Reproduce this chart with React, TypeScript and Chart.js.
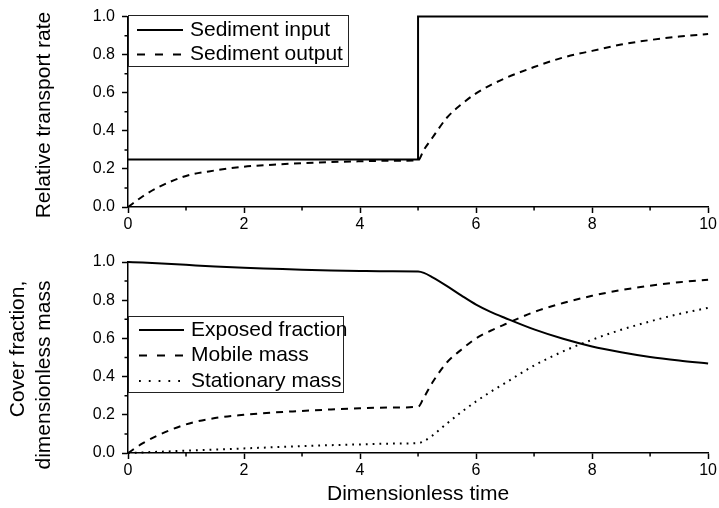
import React, { useEffect, useRef } from 'react';
import { Chart, registerables } from 'chart.js';

Chart.register(...registerables);

const FONT = '"Liberation Sans", Arial, sans-serif';

// ---- data ----
const timeGrid = [0, 0.25, 0.5, 1, 1.5, 2, 2.5, 3, 3.5, 4, 4.5, 5, 5.1, 5.25, 5.5, 5.75, 6, 6.25, 6.5, 7, 7.5, 8, 8.5, 9, 9.5, 10];
const inputTime = [0, 5, 5, 10];
const sedimentInput = [0.25, 0.25, 1.0, 1.0];
const sedimentOutput = [0, 0.055, 0.1, 0.163, 0.192, 0.212, 0.222, 0.23, 0.236, 0.24, 0.243, 0.245, 0.3, 0.365, 0.47, 0.54, 0.597, 0.64, 0.676, 0.735, 0.785, 0.82, 0.853, 0.877, 0.895, 0.908];
const exposedFraction = [1.0, 0.997, 0.993, 0.985, 0.977, 0.97, 0.965, 0.96, 0.956, 0.953, 0.951, 0.95, 0.943, 0.92, 0.874, 0.824, 0.777, 0.739, 0.707, 0.647, 0.598, 0.558, 0.528, 0.503, 0.484, 0.468];
const mobileMass = [0, 0.05, 0.09, 0.15, 0.183, 0.2, 0.212, 0.22, 0.228, 0.234, 0.238, 0.242, 0.29, 0.37, 0.475, 0.542, 0.6, 0.64, 0.674, 0.738, 0.785, 0.823, 0.853, 0.876, 0.894, 0.907];
const stationaryMass = [0, 0.003, 0.006, 0.012, 0.018, 0.024, 0.03, 0.036, 0.041, 0.045, 0.049, 0.052, 0.062, 0.092, 0.155, 0.215, 0.27, 0.32, 0.366, 0.458, 0.532, 0.593, 0.645, 0.689, 0.728, 0.76];

const xTickValues = [0, 2, 4, 6, 8, 10];
const yTickValues = [0, 0.2, 0.4, 0.6, 0.8, 1.0];
const xMinorValues = [1, 3, 5, 7, 9];
const yMinorValues = [0.1, 0.3, 0.5, 0.7, 0.9];

const topLabels = ['Sediment input', 'Sediment output'];
const bottomLabels = ['Exposed fraction', 'Mobile mass', 'Stationary mass'];
const topYTitle = ['Relative transport rate'];
const bottomYTitle = ['Cover fraction,', 'dimensionless mass'];
const xTitle = 'Dimensionless time';

const pts = (xs: number[], ys: number[]) => xs.map((x, i) => ({ x, y: ys[i] }));

// ---- plugins ----
const minorTicks = {
  id: 'minorTicks',
  afterDraw(chart: any) {
    const { ctx } = chart;
    const x = chart.scales.x;
    const y = chart.scales.y;
    ctx.save();
    ctx.strokeStyle = '#000';
    ctx.lineWidth = 1.5;
    ctx.beginPath();
    xMinorValues.forEach((v) => {
      const px = x.getPixelForValue(v);
      ctx.moveTo(px, x.top);
      ctx.lineTo(px, x.top + 3.5);
    });
    yMinorValues.forEach((v) => {
      const py = y.getPixelForValue(v);
      ctx.moveTo(y.right, py);
      ctx.lineTo(y.right - 3.5, py);
    });
    ctx.stroke();
    ctx.restore();
  },
};

const boxLegend = {
  id: 'boxLegend',
  afterDraw(chart: any, _args: any, opts: any) {
    if (!opts || !opts.show) return;
    const { ctx } = chart;
    const left = chart.chartArea.left;
    const top = opts.top;
    ctx.save();
    ctx.fillStyle = '#fff';
    ctx.fillRect(left, top, opts.width, opts.height);
    ctx.strokeStyle = '#222';
    ctx.lineWidth = 1;
    ctx.strokeRect(left + 0.5, top + 0.5, opts.width - 1, opts.height - 1);
    ctx.font = `${opts.fontSize}px ${FONT}`;
    ctx.textBaseline = 'middle';
    ctx.textAlign = 'left';
    chart.data.datasets.forEach((ds: any, i: number) => {
      const yy = top + opts.firstRow + i * opts.rowGap;
      ctx.beginPath();
      ctx.setLineDash(ds.legendDash || []);
      ctx.lineWidth = ds.borderWidth;
      ctx.strokeStyle = ds.borderColor;
      ctx.moveTo(left + opts.samplePad, yy);
      ctx.lineTo(left + opts.samplePad + opts.sampleLen, yy);
      ctx.stroke();
      ctx.setLineDash([]);
      ctx.fillStyle = '#000';
      ctx.fillText(ds.label, left + opts.samplePad + opts.sampleLen + opts.textGap, yy);
    });
    ctx.restore();
  },
};

const sideTitles = {
  id: 'sideTitles',
  afterDraw(chart: any, _args: any, opts: any) {
    if (!opts || !opts.lines) return;
    const { ctx } = chart;
    ctx.save();
    ctx.font = `${opts.fontSize}px ${FONT}`;
    ctx.fillStyle = '#000';
    ctx.textAlign = 'center';
    ctx.textBaseline = 'middle';
    const n = opts.lines.length;
    for (let i = 0; i < n; i++) {
      ctx.save();
      ctx.translate(opts.xs[i], opts.ys[i]);
      ctx.rotate(-Math.PI / 2);
      ctx.fillText(opts.lines[i], 0, 0);
      ctx.restore();
    }
    ctx.restore();
  },
};

function makeScales(xHeight: number, withTitle: boolean) {
  return {
    x: {
      type: 'linear',
      min: 0,
      max: 10,
      afterBuildTicks: (s: any) => {
        s.ticks = xTickValues.map((v) => ({ value: v }));
      },
      ticks: {
        font: { family: FONT, size: 16 },
        color: '#000',
        padding: 2,
        maxRotation: 0,
        autoSkip: false,
        callback: (v: any) => String(v),
      },
      grid: { drawOnChartArea: false, drawTicks: true, tickLength: 6, tickWidth: 1.5, tickColor: '#000' },
      border: { display: true, color: '#000', width: 1.5 },
      title: {
        display: withTitle,
        text: xTitle,
        color: '#000',
        font: { family: FONT, size: 21 },
        padding: { top: 0, bottom: 1 },
      },
      afterFit: (s: any) => {
        s.height = xHeight;
      },
    },
    y: {
      type: 'linear',
      min: 0,
      max: 1,
      afterBuildTicks: (s: any) => {
        s.ticks = yTickValues.map((v) => ({ value: v }));
      },
      ticks: {
        font: { family: FONT, size: 16 },
        color: '#000',
        padding: 7,
        autoSkip: false,
        callback: (v: any) => Number(v).toFixed(1),
      },
      grid: { drawOnChartArea: false, drawTicks: true, tickLength: 6, tickWidth: 1.5, tickColor: '#000' },
      border: { display: true, color: '#000', width: 1.5 },
      afterFit: (s: any) => {
        s.width = 128;
      },
    },
  };
}

export default function App() {
  const topRef = useRef<HTMLCanvasElement | null>(null);
  const botRef = useRef<HTMLCanvasElement | null>(null);

  useEffect(() => {
    const top = new Chart(topRef.current as HTMLCanvasElement, {
      type: 'line',
      data: {
        datasets: [
          {
            label: topLabels[0],
            data: pts(inputTime, sedimentInput),
            borderColor: '#000',
            borderWidth: 2,
            pointRadius: 0,
            tension: 0,
            clip: 6,
            legendDash: [],
          } as any,
          {
            label: topLabels[1],
            data: pts(timeGrid, sedimentOutput),
            borderColor: '#000',
            borderWidth: 2,
            borderDash: [7, 5.5],
            pointRadius: 0,
            clip: 6,
            cubicInterpolationMode: 'monotone',
            legendDash: [8, 10],
          } as any,
        ],
      },
      options: {
        animation: false,
        responsive: false,
        layout: { padding: { left: 0, right: 10, top: 16, bottom: 0 } },
        scales: makeScales(38, false) as any,
        plugins: {
          legend: { display: false },
          tooltip: { enabled: false },
          boxLegend: {
            show: true,
            top: 15,
            width: 221,
            height: 52,
            firstRow: 15,
            rowGap: 24.5,
            samplePad: 9,
            sampleLen: 46,
            textGap: 7,
            fontSize: 21,
          },
          sideTitles: {
            lines: topYTitle,
            xs: [44.5],
            ys: [115],
            fontSize: 21,
          },
        } as any,
      },
      plugins: [minorTicks, boxLegend, sideTitles],
    });

    const bottom = new Chart(botRef.current as HTMLCanvasElement, {
      type: 'line',
      data: {
        datasets: [
          {
            label: bottomLabels[0],
            data: pts(timeGrid, exposedFraction),
            borderColor: '#000',
            borderWidth: 2,
            pointRadius: 0,
            clip: 6,
            cubicInterpolationMode: 'monotone',
            legendDash: [],
          } as any,
          {
            label: bottomLabels[1],
            data: pts(timeGrid, mobileMass),
            borderColor: '#000',
            borderWidth: 2,
            borderDash: [7, 6],
            pointRadius: 0,
            clip: 6,
            cubicInterpolationMode: 'monotone',
            legendDash: [8, 10],
          } as any,
          {
            label: bottomLabels[2],
            data: pts(timeGrid, stationaryMass),
            borderColor: '#000',
            borderWidth: 2,
            borderDash: [1.8, 5],
            pointRadius: 0,
            clip: 6,
            cubicInterpolationMode: 'monotone',
            legendDash: [1.8, 8],
          } as any,
        ],
      },
      options: {
        animation: false,
        responsive: false,
        layout: { padding: { left: 0, right: 10, top: 17, bottom: 0 } },
        scales: makeScales(55, true) as any,
        plugins: {
          legend: { display: false },
          tooltip: { enabled: false },
          boxLegend: {
            show: true,
            top: 71,
            width: 216,
            height: 77,
            firstRow: 14,
            rowGap: 25.5,
            samplePad: 11,
            sampleLen: 45,
            textGap: 7,
            fontSize: 21,
          },
          sideTitles: {
            lines: bottomYTitle,
            xs: [18.5, 44.5],
            ys: [104, 130],
            fontSize: 21,
          },
        } as any,
      },
      plugins: [minorTicks, boxLegend, sideTitles],
    });

    return () => {
      top.destroy();
      bottom.destroy();
    };
  }, []);

  return (
    <div style={{ position: 'fixed', left: 0, top: 0, width: 719, height: 508, background: '#fff' }}>
      <canvas ref={topRef} width={719} height={245} style={{ position: 'absolute', left: 0, top: 0 }} />
      <canvas ref={botRef} width={719} height={263} style={{ position: 'absolute', left: 0, top: 245 }} />
    </div>
  );
}
